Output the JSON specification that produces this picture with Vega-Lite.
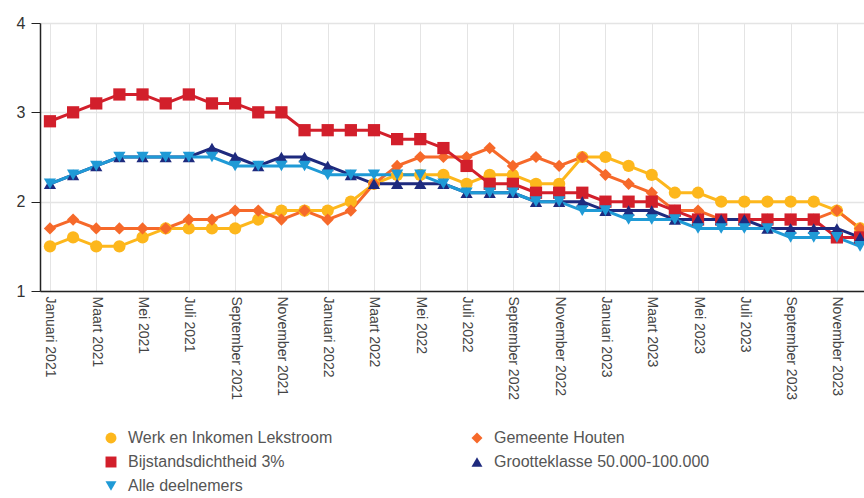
{
  "$schema": "https://vega.github.io/schema/vega-lite/v6.json",
  "autosize": "none",
  "width": 830,
  "height": 268,
  "padding": {"left": 40, "top": 23, "right": 0, "bottom": 207},
  "background": "white",
  "config": {
    "view": {"stroke": null},
    "font": "Liberation Sans"
  },
  "data": {"values": [
    {"m":"Januari 2021","s":"Werk en Inkomen Lekstroom","v":1.5},{"m":"Februari 2021","s":"Werk en Inkomen Lekstroom","v":1.6},{"m":"Maart 2021","s":"Werk en Inkomen Lekstroom","v":1.5},{"m":"April 2021","s":"Werk en Inkomen Lekstroom","v":1.5},{"m":"Mei 2021","s":"Werk en Inkomen Lekstroom","v":1.6},{"m":"Juni 2021","s":"Werk en Inkomen Lekstroom","v":1.7},{"m":"Juli 2021","s":"Werk en Inkomen Lekstroom","v":1.7},{"m":"Augustus 2021","s":"Werk en Inkomen Lekstroom","v":1.7},{"m":"September 2021","s":"Werk en Inkomen Lekstroom","v":1.7},{"m":"Oktober 2021","s":"Werk en Inkomen Lekstroom","v":1.8},{"m":"November 2021","s":"Werk en Inkomen Lekstroom","v":1.9},{"m":"December 2021","s":"Werk en Inkomen Lekstroom","v":1.9},
    {"m":"Januari 2022","s":"Werk en Inkomen Lekstroom","v":1.9},{"m":"Februari 2022","s":"Werk en Inkomen Lekstroom","v":2.0},{"m":"Maart 2022","s":"Werk en Inkomen Lekstroom","v":2.2},{"m":"April 2022","s":"Werk en Inkomen Lekstroom","v":2.3},{"m":"Mei 2022","s":"Werk en Inkomen Lekstroom","v":2.3},{"m":"Juni 2022","s":"Werk en Inkomen Lekstroom","v":2.3},{"m":"Juli 2022","s":"Werk en Inkomen Lekstroom","v":2.2},{"m":"Augustus 2022","s":"Werk en Inkomen Lekstroom","v":2.3},{"m":"September 2022","s":"Werk en Inkomen Lekstroom","v":2.3},{"m":"Oktober 2022","s":"Werk en Inkomen Lekstroom","v":2.2},{"m":"November 2022","s":"Werk en Inkomen Lekstroom","v":2.2},{"m":"December 2022","s":"Werk en Inkomen Lekstroom","v":2.5},
    {"m":"Januari 2023","s":"Werk en Inkomen Lekstroom","v":2.5},{"m":"Februari 2023","s":"Werk en Inkomen Lekstroom","v":2.4},{"m":"Maart 2023","s":"Werk en Inkomen Lekstroom","v":2.3},{"m":"April 2023","s":"Werk en Inkomen Lekstroom","v":2.1},{"m":"Mei 2023","s":"Werk en Inkomen Lekstroom","v":2.1},{"m":"Juni 2023","s":"Werk en Inkomen Lekstroom","v":2.0},{"m":"Juli 2023","s":"Werk en Inkomen Lekstroom","v":2.0},{"m":"Augustus 2023","s":"Werk en Inkomen Lekstroom","v":2.0},{"m":"September 2023","s":"Werk en Inkomen Lekstroom","v":2.0},{"m":"Oktober 2023","s":"Werk en Inkomen Lekstroom","v":2.0},{"m":"November 2023","s":"Werk en Inkomen Lekstroom","v":1.9},{"m":"December 2023","s":"Werk en Inkomen Lekstroom","v":1.7},

    {"m":"Januari 2021","s":"Gemeente Houten","v":1.7},{"m":"Februari 2021","s":"Gemeente Houten","v":1.8},{"m":"Maart 2021","s":"Gemeente Houten","v":1.7},{"m":"April 2021","s":"Gemeente Houten","v":1.7},{"m":"Mei 2021","s":"Gemeente Houten","v":1.7},{"m":"Juni 2021","s":"Gemeente Houten","v":1.7},{"m":"Juli 2021","s":"Gemeente Houten","v":1.8},{"m":"Augustus 2021","s":"Gemeente Houten","v":1.8},{"m":"September 2021","s":"Gemeente Houten","v":1.9},{"m":"Oktober 2021","s":"Gemeente Houten","v":1.9},{"m":"November 2021","s":"Gemeente Houten","v":1.8},{"m":"December 2021","s":"Gemeente Houten","v":1.9},
    {"m":"Januari 2022","s":"Gemeente Houten","v":1.8},{"m":"Februari 2022","s":"Gemeente Houten","v":1.9},{"m":"Maart 2022","s":"Gemeente Houten","v":2.2},{"m":"April 2022","s":"Gemeente Houten","v":2.4},{"m":"Mei 2022","s":"Gemeente Houten","v":2.5},{"m":"Juni 2022","s":"Gemeente Houten","v":2.5},{"m":"Juli 2022","s":"Gemeente Houten","v":2.5},{"m":"Augustus 2022","s":"Gemeente Houten","v":2.6},{"m":"September 2022","s":"Gemeente Houten","v":2.4},{"m":"Oktober 2022","s":"Gemeente Houten","v":2.5},{"m":"November 2022","s":"Gemeente Houten","v":2.4},{"m":"December 2022","s":"Gemeente Houten","v":2.5},
    {"m":"Januari 2023","s":"Gemeente Houten","v":2.3},{"m":"Februari 2023","s":"Gemeente Houten","v":2.2},{"m":"Maart 2023","s":"Gemeente Houten","v":2.1},{"m":"April 2023","s":"Gemeente Houten","v":1.9},{"m":"Mei 2023","s":"Gemeente Houten","v":1.9},{"m":"Juni 2023","s":"Gemeente Houten","v":1.8},{"m":"Juli 2023","s":"Gemeente Houten","v":1.8},{"m":"Augustus 2023","s":"Gemeente Houten","v":1.8},{"m":"September 2023","s":"Gemeente Houten","v":1.8},{"m":"Oktober 2023","s":"Gemeente Houten","v":1.8},{"m":"November 2023","s":"Gemeente Houten","v":1.9},{"m":"December 2023","s":"Gemeente Houten","v":1.7},

    {"m":"Januari 2021","s":"Bijstandsdichtheid 3%","v":2.9},{"m":"Februari 2021","s":"Bijstandsdichtheid 3%","v":3.0},{"m":"Maart 2021","s":"Bijstandsdichtheid 3%","v":3.1},{"m":"April 2021","s":"Bijstandsdichtheid 3%","v":3.2},{"m":"Mei 2021","s":"Bijstandsdichtheid 3%","v":3.2},{"m":"Juni 2021","s":"Bijstandsdichtheid 3%","v":3.1},{"m":"Juli 2021","s":"Bijstandsdichtheid 3%","v":3.2},{"m":"Augustus 2021","s":"Bijstandsdichtheid 3%","v":3.1},{"m":"September 2021","s":"Bijstandsdichtheid 3%","v":3.1},{"m":"Oktober 2021","s":"Bijstandsdichtheid 3%","v":3.0},{"m":"November 2021","s":"Bijstandsdichtheid 3%","v":3.0},{"m":"December 2021","s":"Bijstandsdichtheid 3%","v":2.8},
    {"m":"Januari 2022","s":"Bijstandsdichtheid 3%","v":2.8},{"m":"Februari 2022","s":"Bijstandsdichtheid 3%","v":2.8},{"m":"Maart 2022","s":"Bijstandsdichtheid 3%","v":2.8},{"m":"April 2022","s":"Bijstandsdichtheid 3%","v":2.7},{"m":"Mei 2022","s":"Bijstandsdichtheid 3%","v":2.7},{"m":"Juni 2022","s":"Bijstandsdichtheid 3%","v":2.6},{"m":"Juli 2022","s":"Bijstandsdichtheid 3%","v":2.4},{"m":"Augustus 2022","s":"Bijstandsdichtheid 3%","v":2.2},{"m":"September 2022","s":"Bijstandsdichtheid 3%","v":2.2},{"m":"Oktober 2022","s":"Bijstandsdichtheid 3%","v":2.1},{"m":"November 2022","s":"Bijstandsdichtheid 3%","v":2.1},{"m":"December 2022","s":"Bijstandsdichtheid 3%","v":2.1},
    {"m":"Januari 2023","s":"Bijstandsdichtheid 3%","v":2.0},{"m":"Februari 2023","s":"Bijstandsdichtheid 3%","v":2.0},{"m":"Maart 2023","s":"Bijstandsdichtheid 3%","v":2.0},{"m":"April 2023","s":"Bijstandsdichtheid 3%","v":1.9},{"m":"Mei 2023","s":"Bijstandsdichtheid 3%","v":1.8},{"m":"Juni 2023","s":"Bijstandsdichtheid 3%","v":1.8},{"m":"Juli 2023","s":"Bijstandsdichtheid 3%","v":1.8},{"m":"Augustus 2023","s":"Bijstandsdichtheid 3%","v":1.8},{"m":"September 2023","s":"Bijstandsdichtheid 3%","v":1.8},{"m":"Oktober 2023","s":"Bijstandsdichtheid 3%","v":1.8},{"m":"November 2023","s":"Bijstandsdichtheid 3%","v":1.6},{"m":"December 2023","s":"Bijstandsdichtheid 3%","v":1.6},

    {"m":"Januari 2021","s":"Grootteklasse 50.000-100.000","v":2.2},{"m":"Februari 2021","s":"Grootteklasse 50.000-100.000","v":2.3},{"m":"Maart 2021","s":"Grootteklasse 50.000-100.000","v":2.4},{"m":"April 2021","s":"Grootteklasse 50.000-100.000","v":2.5},{"m":"Mei 2021","s":"Grootteklasse 50.000-100.000","v":2.5},{"m":"Juni 2021","s":"Grootteklasse 50.000-100.000","v":2.5},{"m":"Juli 2021","s":"Grootteklasse 50.000-100.000","v":2.5},{"m":"Augustus 2021","s":"Grootteklasse 50.000-100.000","v":2.6},{"m":"September 2021","s":"Grootteklasse 50.000-100.000","v":2.5},{"m":"Oktober 2021","s":"Grootteklasse 50.000-100.000","v":2.4},{"m":"November 2021","s":"Grootteklasse 50.000-100.000","v":2.5},{"m":"December 2021","s":"Grootteklasse 50.000-100.000","v":2.5},
    {"m":"Januari 2022","s":"Grootteklasse 50.000-100.000","v":2.4},{"m":"Februari 2022","s":"Grootteklasse 50.000-100.000","v":2.3},{"m":"Maart 2022","s":"Grootteklasse 50.000-100.000","v":2.2},{"m":"April 2022","s":"Grootteklasse 50.000-100.000","v":2.2},{"m":"Mei 2022","s":"Grootteklasse 50.000-100.000","v":2.2},{"m":"Juni 2022","s":"Grootteklasse 50.000-100.000","v":2.2},{"m":"Juli 2022","s":"Grootteklasse 50.000-100.000","v":2.1},{"m":"Augustus 2022","s":"Grootteklasse 50.000-100.000","v":2.1},{"m":"September 2022","s":"Grootteklasse 50.000-100.000","v":2.1},{"m":"Oktober 2022","s":"Grootteklasse 50.000-100.000","v":2.0},{"m":"November 2022","s":"Grootteklasse 50.000-100.000","v":2.0},{"m":"December 2022","s":"Grootteklasse 50.000-100.000","v":2.0},
    {"m":"Januari 2023","s":"Grootteklasse 50.000-100.000","v":1.9},{"m":"Februari 2023","s":"Grootteklasse 50.000-100.000","v":1.9},{"m":"Maart 2023","s":"Grootteklasse 50.000-100.000","v":1.9},{"m":"April 2023","s":"Grootteklasse 50.000-100.000","v":1.8},{"m":"Mei 2023","s":"Grootteklasse 50.000-100.000","v":1.8},{"m":"Juni 2023","s":"Grootteklasse 50.000-100.000","v":1.8},{"m":"Juli 2023","s":"Grootteklasse 50.000-100.000","v":1.8},{"m":"Augustus 2023","s":"Grootteklasse 50.000-100.000","v":1.7},{"m":"September 2023","s":"Grootteklasse 50.000-100.000","v":1.7},{"m":"Oktober 2023","s":"Grootteklasse 50.000-100.000","v":1.7},{"m":"November 2023","s":"Grootteklasse 50.000-100.000","v":1.7},{"m":"December 2023","s":"Grootteklasse 50.000-100.000","v":1.6},

    {"m":"Januari 2021","s":"Alle deelnemers","v":2.2},{"m":"Februari 2021","s":"Alle deelnemers","v":2.3},{"m":"Maart 2021","s":"Alle deelnemers","v":2.4},{"m":"April 2021","s":"Alle deelnemers","v":2.5},{"m":"Mei 2021","s":"Alle deelnemers","v":2.5},{"m":"Juni 2021","s":"Alle deelnemers","v":2.5},{"m":"Juli 2021","s":"Alle deelnemers","v":2.5},{"m":"Augustus 2021","s":"Alle deelnemers","v":2.5},{"m":"September 2021","s":"Alle deelnemers","v":2.4},{"m":"Oktober 2021","s":"Alle deelnemers","v":2.4},{"m":"November 2021","s":"Alle deelnemers","v":2.4},{"m":"December 2021","s":"Alle deelnemers","v":2.4},
    {"m":"Januari 2022","s":"Alle deelnemers","v":2.3},{"m":"Februari 2022","s":"Alle deelnemers","v":2.3},{"m":"Maart 2022","s":"Alle deelnemers","v":2.3},{"m":"April 2022","s":"Alle deelnemers","v":2.3},{"m":"Mei 2022","s":"Alle deelnemers","v":2.3},{"m":"Juni 2022","s":"Alle deelnemers","v":2.2},{"m":"Juli 2022","s":"Alle deelnemers","v":2.1},{"m":"Augustus 2022","s":"Alle deelnemers","v":2.1},{"m":"September 2022","s":"Alle deelnemers","v":2.1},{"m":"Oktober 2022","s":"Alle deelnemers","v":2.0},{"m":"November 2022","s":"Alle deelnemers","v":2.0},{"m":"December 2022","s":"Alle deelnemers","v":1.9},
    {"m":"Januari 2023","s":"Alle deelnemers","v":1.9},{"m":"Februari 2023","s":"Alle deelnemers","v":1.8},{"m":"Maart 2023","s":"Alle deelnemers","v":1.8},{"m":"April 2023","s":"Alle deelnemers","v":1.8},{"m":"Mei 2023","s":"Alle deelnemers","v":1.7},{"m":"Juni 2023","s":"Alle deelnemers","v":1.7},{"m":"Juli 2023","s":"Alle deelnemers","v":1.7},{"m":"Augustus 2023","s":"Alle deelnemers","v":1.7},{"m":"September 2023","s":"Alle deelnemers","v":1.6},{"m":"Oktober 2023","s":"Alle deelnemers","v":1.6},{"m":"November 2023","s":"Alle deelnemers","v":1.6},{"m":"December 2023","s":"Alle deelnemers","v":1.5}
  ]},
  "encoding": {
    "x": {
      "field": "m", "type": "ordinal", "sort": null,
      "scale": {"type": "point", "padding": 0.43},
      "axis": {
        "title": null,
        "values": ["Januari 2021","Maart 2021","Mei 2021","Juli 2021","September 2021","November 2021","Januari 2022","Maart 2022","Mei 2022","Juli 2022","September 2022","November 2022","Januari 2023","Maart 2023","Mei 2023","Juli 2023","September 2023","November 2023"],
        "labelAngle": 90, "labelAlign": "left", "labelBaseline": "middle",
        "labelFontSize": 14, "labelColor": "#444", "labelPadding": 5,
        "ticks": false, "domainColor": "#222", "domainWidth": 1.5,
        "grid": true, "gridColor": "#e4e4e4", "gridWidth": 1
      }
    },
    "y": {
      "field": "v", "type": "quantitative",
      "scale": {"domain": [1, 4], "nice": false, "zero": false},
      "axis": {
        "title": null, "values": [1, 2, 3, 4], "format": "d",
        "labelFontSize": 16, "labelColor": "#333", "labelPadding": 6,
        "tickSize": 9, "tickColor": "#222", "domainColor": "#222", "domainWidth": 1.5,
        "gridColor": "#e4e4e4", "gridWidth": 1.5
      }
    },
    "color": {
      "field": "s", "type": "nominal",
      "scale": {
        "domain": ["Werk en Inkomen Lekstroom","Bijstandsdichtheid 3%","Alle deelnemers","Gemeente Houten","Grootteklasse 50.000-100.000"],
        "range": ["#FDB71C","#D21F2B","#1F9AD6","#F6692A","#1E2A7E"]
      },
      "legend": {
        "title": null, "orient": "none", "legendX": 63, "legendY": 407,
        "columns": 2, "columnPadding": 136, "rowPadding": 8,
        "labelFontSize": 16, "labelColor": "#555", "labelFont": "Liberation Sans", "labelOffset": 9,
        "symbolSize": 120, "symbolStrokeWidth": 0, "labelLimit": 300
      }
    },
    "shape": {
      "field": "s", "type": "nominal",
      "scale": {
        "domain": ["Werk en Inkomen Lekstroom","Bijstandsdichtheid 3%","Alle deelnemers","Gemeente Houten","Grootteklasse 50.000-100.000"],
        "range": ["circle","square","triangle-down","diamond","triangle-up"]
      }
    }
  },
  "layer": [
    {"mark": {"type": "line", "strokeWidth": 3}},
    {"mark": {"type": "point", "filled": true, "opacity": 1, "size": 150}}
  ]
}
